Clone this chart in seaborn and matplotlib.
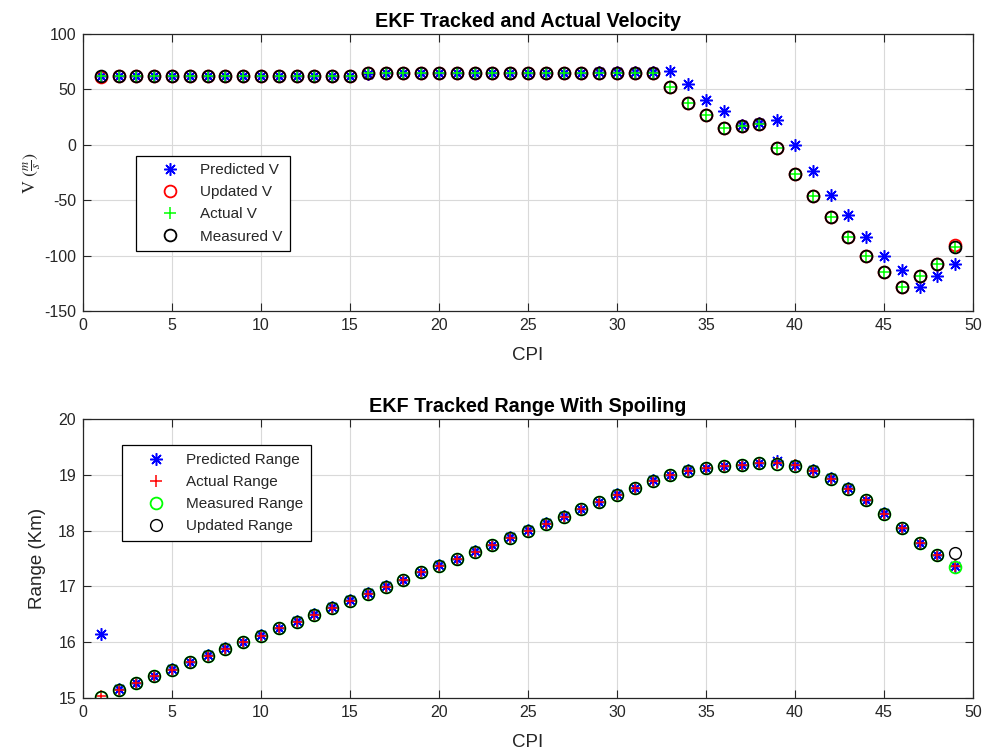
import numpy as np
import pandas as pd
import matplotlib
matplotlib.use("Agg")
import matplotlib.pyplot as plt
import seaborn as sns

# ---- data ----
cpi = list(range(1, 50))

vel_measured = [62, 62, 62, 62, 62, 62, 62, 62, 62, 62, 62, 62, 62, 62, 62,
                64.5, 64.5, 64.5, 64.5, 64.5, 64.5, 64.5, 64.5, 64.5, 64.5, 64.5,
                64.5, 64.5, 64.5, 64.5, 64.5, 64.5,
                52, 37.5, 27, 15, 17, 19, -3.3, -26, -46.5, -65, -83.6, -100,
                -114.5, -128.6, -118.7, -108, -92]
vel_actual = [62, 62, 62, 62, 62, 62, 62, 62, 62, 62, 62, 62, 62, 62, 62,
              64.5, 64.5, 64.5, 64.5, 64.5, 64.5, 64.5, 64.5, 64.5, 64.5, 64.5,
              64.5, 64.5, 64.5, 64.5, 64.5, 64.5,
              52, 37.5, 27, 15, 17, 19, -3.3, -26, -46.5, -65, -83.6, -100,
              -114.5, -128.6, -118.7, -108, -92]
vel_updated = [61.5, 62, 62, 62, 62, 62, 62, 62, 62, 62, 62, 62, 62, 62, 62,
               64.5, 64.5, 64.5, 64.5, 64.5, 64.5, 64.5, 64.5, 64.5, 64.5, 64.5,
               64.5, 64.5, 64.5, 64.5, 64.5, 64.5,
               52, 37.5, 27, 15, 17, 19, -3.3, -26, -46.5, -65, -83.6, -100,
               -114.5, -128.6, -118.7, -108, -90]
vel_predicted = [62, 62, 62, 62, 62, 62, 62, 62, 62, 62, 62, 62, 62, 62, 62,
                 63.5, 64.5, 64.5, 64.5, 64.5, 64.5, 64.5, 64.5, 64.5, 64.5, 64.5,
                 64.5, 64.5, 66, 66, 66, 66,
                 66.8, 54.9, 40.2, 30.6, 17.4, 19.8, 22.2, -0.3, -23.4, -45,
                 -63.6, -83, -100.4, -113.3, -128.3, -118.7, -107.6]

rng_actual = [15.03, 15.15, 15.26, 15.39, 15.51, 15.64, 15.76, 15.88, 16.0, 16.12,
              16.25, 16.37, 16.49, 16.62, 16.74, 16.87, 16.99, 17.11, 17.25, 17.37,
              17.49, 17.62, 17.74, 17.87, 18.0, 18.12, 18.25, 18.38, 18.51, 18.64,
              18.76, 18.89, 18.99, 19.07, 19.12, 19.15, 19.17, 19.21, 19.21, 19.17,
              19.07, 18.93, 18.75, 18.54, 18.3, 18.04, 17.77, 17.56, 17.36]
rng_measured = [15.02, 15.15, 15.26, 15.39, 15.51, 15.64, 15.76, 15.88, 16.0, 16.12,
                16.25, 16.37, 16.49, 16.62, 16.74, 16.87, 16.99, 17.11, 17.25, 17.37,
                17.49, 17.62, 17.74, 17.87, 18.0, 18.12, 18.25, 18.38, 18.51, 18.64,
                18.76, 18.89, 18.99, 19.07, 19.12, 19.15, 19.17, 19.21, 19.2, 19.16,
                19.06, 18.93, 18.75, 18.54, 18.3, 18.04, 17.77, 17.56, 17.35]
rng_updated = [15.02, 15.15, 15.26, 15.39, 15.51, 15.64, 15.76, 15.88, 16.0, 16.12,
               16.25, 16.37, 16.49, 16.62, 16.74, 16.87, 16.99, 17.11, 17.25, 17.37,
               17.49, 17.62, 17.74, 17.87, 18.0, 18.12, 18.25, 18.38, 18.51, 18.64,
               18.76, 18.89, 18.99, 19.07, 19.12, 19.15, 19.17, 19.21, 19.2, 19.16,
               19.06, 18.93, 18.75, 18.54, 18.3, 18.04, 17.77, 17.56, 17.59]
rng_predicted = [16.15, 15.16, 15.27, 15.4, 15.52, 15.65, 15.77, 15.89, 16.01, 16.13,
                 16.26, 16.38, 16.5, 16.63, 16.75, 16.88, 17.0, 17.12, 17.26, 17.38,
                 17.5, 17.63, 17.75, 17.88, 18.01, 18.13, 18.26, 18.39, 18.52, 18.65,
                 18.77, 18.9, 19.0, 19.08, 19.13, 19.16, 19.18, 19.22, 19.24, 19.18,
                 19.08, 18.94, 18.76, 18.55, 18.31, 18.05, 17.78, 17.56, 17.36]

# ---- style ----
sns.set_theme(style="ticks")
plt.rcParams["font.family"] = ["Liberation Sans", "DejaVu Sans"]
plt.rcParams["mathtext.fontset"] = "stix"
plt.rcParams["axes.unicode_minus"] = False

TXT = "#262626"
SPINE = "#262626"

fig = plt.figure(figsize=(9.87, 7.55), dpi=100)
ax1 = fig.add_axes([0.0841, 0.5881, 0.9017, 0.3669])
ax2 = fig.add_axes([0.0841, 0.0755, 0.9017, 0.3695])

asterisk = (8, 2, 0)


def draw(ax, y, marker, color, label, ms, mew=1.0):
    df = pd.DataFrame({"CPI": cpi, "v": y})
    sns.lineplot(data=df, x="CPI", y="v", ax=ax, linestyle="none",
                 marker=marker, markersize=ms, markeredgewidth=mew,
                 markerfacecolor="none", markeredgecolor=color, color=color,
                 label=label, estimator=None, sort=False)


# velocity panel
draw(ax1, vel_predicted, asterisk, "#0000ff", "Predicted V", 9, 1.1)
draw(ax1, vel_updated, "o", "#ff0000", "Updated V", 8.5, 1.3)
draw(ax1, vel_actual, "+", "#00ff00", "Actual V", 8.5, 1.1)
draw(ax1, vel_measured, "o", "#000000", "Measured V", 8.5, 1.3)

# range panel
draw(ax2, rng_predicted, asterisk, "#0000ff", "Predicted Range", 9, 1.1)
draw(ax2, rng_actual, "+", "#ff0000", "Actual Range", 9, 1.1)
draw(ax2, rng_measured, "o", "#00ff00", "Measured Range", 8.5, 1.3)
draw(ax2, rng_updated, "o", "#000000", "Updated Range", 8.5, 1.0)

for ax in (ax1, ax2):
    ax.set_xlim(0, 50)
    ax.set_xticks(range(0, 51, 5))
    ax.grid(True, color="#d9d9d9", linewidth=0.8)
    ax.set_axisbelow(True)
    for s in ax.spines.values():
        s.set_visible(True)
        s.set_color(SPINE)
        s.set_linewidth(0.9)
    ax.tick_params(direction="in", length=6, width=0.8, colors=SPINE,
                   labelsize=11.5, labelcolor=TXT, top=True, right=True, pad=5)
    ax.set_xlabel("CPI", fontsize=13.5, color=TXT, labelpad=10)

ax1.set_ylim(-150, 100)
ax1.set_yticks(range(-150, 101, 50))
ax1.set_ylabel(r"V $\left(\frac{m}{s}\right)$", fontsize=13, color=TXT,
               family="STIXGeneral", labelpad=1)
ax1.set_title("EKF Tracked and Actual Velocity", fontsize=14.2,
              fontweight="bold", color="#000000", pad=5)

ax2.set_ylim(15, 20)
ax2.set_yticks(range(15, 21))
ax2.set_ylabel("Range (Km)", fontsize=13.5, color=TXT, labelpad=9)
ax2.set_title("EKF Tracked Range With Spoiling", fontsize=14.2,
              fontweight="bold", color="#000000", pad=5)

leg_kw = dict(fontsize=11, frameon=True, fancybox=False, framealpha=1,
              edgecolor="#000000", borderpad=0.5, labelspacing=0.53,
              handletextpad=0.3, handlelength=3.4, borderaxespad=0)
leg1 = ax1.legend(loc="upper left", bbox_to_anchor=(0.0596, 0.561), **leg_kw)
leg2 = ax2.legend(loc="upper left", bbox_to_anchor=(0.0438, 0.906), **leg_kw)
for leg in (leg1, leg2):
    leg.get_frame().set_linewidth(0.9)
    for t in leg.get_texts():
        t.set_color(TXT)

fig.savefig("out.png", dpi=100)
